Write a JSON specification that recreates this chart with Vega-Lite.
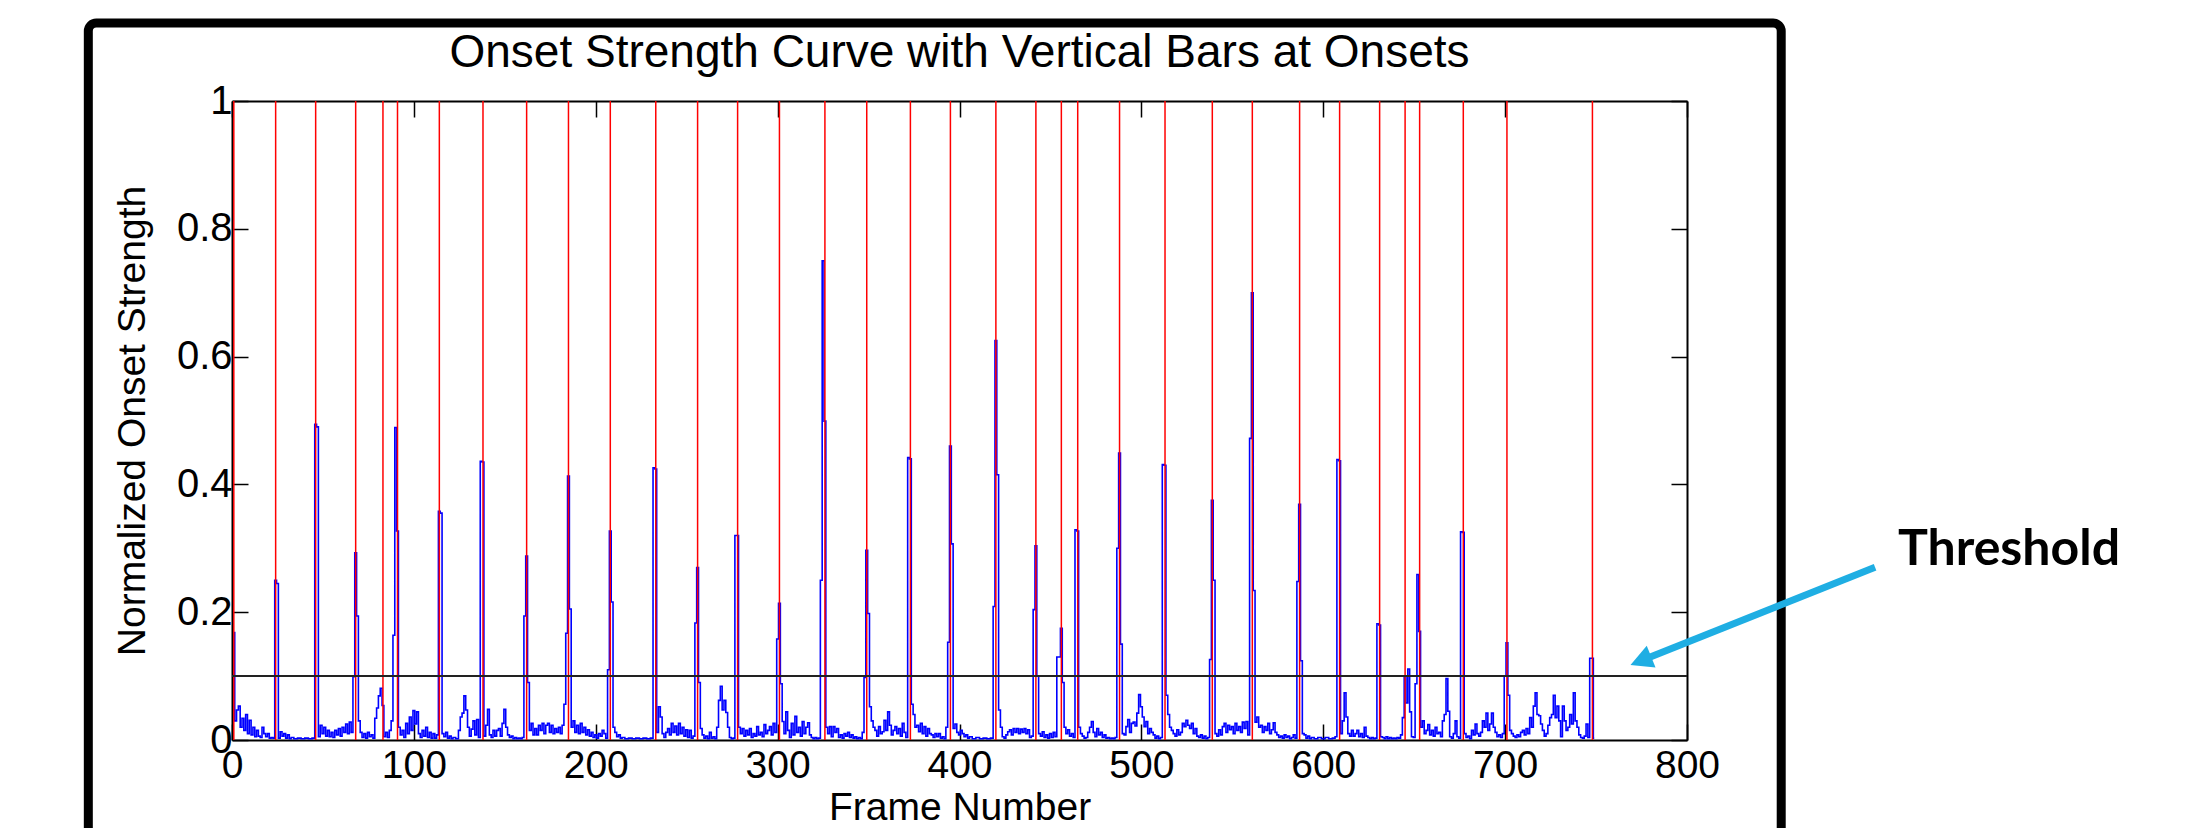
{
"$schema": "https://vega.github.io/schema/vega-lite/v6.json",
"width": 1455,
"height": 639,
"autosize": {"type": "none"},
"padding": {"left": 232, "top": 101, "right": 516, "bottom": 88},
"background": "white",
"config": {"view": {"stroke": null}, "font": "Liberation Sans", "axis": {"grid": false}},
"title": {"text": "Onset Strength Curve with Vertical Bars at Onsets", "font": "Liberation Sans", "fontSize": 46, "fontWeight": "normal", "color": "black", "anchor": "middle", "frame": "group", "offset": -58},
"datasets": {
"curve": [
{"frame":1,"value":0.168},{"frame":2,"value":0.03},{"frame":3,"value":0.047},{"frame":4,"value":0.053},{"frame":5,"value":0.02},{"frame":6,"value":0.034},{"frame":7,"value":0.015},{"frame":8,"value":0.04},{"frame":9,"value":0.01},{"frame":10,"value":0.031},{"frame":11,"value":0.008},{"frame":12,"value":0.02},{"frame":13,"value":0.005},{"frame":14,"value":0.015},{"frame":15,"value":0.006},{"frame":16,"value":0.004},{"frame":17,"value":0.02},{"frame":18,"value":0.01},{"frame":19,"value":0.005},{"frame":20,"value":0.01},{"frame":21,"value":0.003},{"frame":22,"value":0.004},{"frame":23,"value":0.003},
{"frame":24,"value":0.25},{"frame":25,"value":0.245},{"frame":26,"value":0.003},{"frame":27,"value":0.013},{"frame":28,"value":0.006},{"frame":29,"value":0.01},{"frame":30,"value":0.003},{"frame":31,"value":0.008},{"frame":32,"value":0.002},{"frame":33,"value":0.004},{"frame":35,"value":0.002},{"frame":37,"value":0.003},{"frame":39,"value":0.002},{"frame":41,"value":0.003},{"frame":43,"value":0.002},{"frame":45,"value":0.003},
{"frame":46,"value":0.494},{"frame":47,"value":0.49},{"frame":48,"value":0.005},{"frame":49,"value":0.023},{"frame":50,"value":0.01},{"frame":51,"value":0.02},{"frame":52,"value":0.006},{"frame":53,"value":0.015},{"frame":54,"value":0.005},{"frame":55,"value":0.012},{"frame":56,"value":0.004},{"frame":57,"value":0.015},{"frame":58,"value":0.008},{"frame":59,"value":0.018},{"frame":60,"value":0.006},{"frame":61,"value":0.02},{"frame":62,"value":0.012},{"frame":63,"value":0.025},{"frame":64,"value":0.01},{"frame":65,"value":0.028},{"frame":66,"value":0.012},
{"frame":67,"value":0.099},{"frame":68,"value":0.293},{"frame":69,"value":0.194},{"frame":70,"value":0.03},{"frame":71,"value":0.012},{"frame":72,"value":0.004},{"frame":73,"value":0.01},{"frame":74,"value":0.003},{"frame":75,"value":0.012},{"frame":76,"value":0.005},{"frame":77,"value":0.008},{"frame":78,"value":0.003},{"frame":79,"value":0.034},{"frame":80,"value":0.05},{"frame":81,"value":0.069},{"frame":82,"value":0.081},{"frame":83,"value":0.054},{"frame":84,"value":0.005},{"frame":85,"value":0.012},{"frame":86,"value":0.004},{"frame":87,"value":0.015},{"frame":88,"value":0.03},
{"frame":89,"value":0.164},{"frame":90,"value":0.489},{"frame":91,"value":0.327},{"frame":92,"value":0.02},{"frame":93,"value":0.008},{"frame":94,"value":0.015},{"frame":95,"value":0.004},{"frame":96,"value":0.026},{"frame":97,"value":0.01},{"frame":98,"value":0.036},{"frame":99,"value":0.015},{"frame":100,"value":0.046},{"frame":101,"value":0.025},{"frame":102,"value":0.044},{"frame":103,"value":0.01},{"frame":104,"value":0.004},{"frame":105,"value":0.015},{"frame":106,"value":0.006},{"frame":107,"value":0.02},{"frame":108,"value":0.004},{"frame":109,"value":0.012},{"frame":110,"value":0.003},{"frame":111,"value":0.01},{"frame":112,"value":0.003},{"frame":113,"value":0.008},
{"frame":114,"value":0.358},{"frame":115,"value":0.355},{"frame":116,"value":0.01},{"frame":117,"value":0.005},{"frame":118,"value":0.012},{"frame":119,"value":0.003},{"frame":120,"value":0.006},{"frame":121,"value":0.002},{"frame":122,"value":0.004},{"frame":124,"value":0.002},{"frame":125,"value":0.015},{"frame":126,"value":0.036},{"frame":127,"value":0.042},{"frame":128,"value":0.069},{"frame":129,"value":0.047},{"frame":130,"value":0.02},{"frame":131,"value":0.006},{"frame":132,"value":0.017},{"frame":133,"value":0.03},{"frame":134,"value":0.008},{"frame":135,"value":0.032},{"frame":136,"value":0.004},
{"frame":137,"value":0.436},{"frame":138,"value":0.435},{"frame":139,"value":0.006},{"frame":140,"value":0.023},{"frame":141,"value":0.048},{"frame":142,"value":0.008},{"frame":143,"value":0.004},{"frame":144,"value":0.015},{"frame":145,"value":0.006},{"frame":146,"value":0.015},{"frame":147,"value":0.018},{"frame":148,"value":0.006},{"frame":149,"value":0.026},{"frame":150,"value":0.048},{"frame":151,"value":0.02},{"frame":152,"value":0.008},{"frame":153,"value":0.004},{"frame":154,"value":0.006},{"frame":155,"value":0.002},{"frame":156,"value":0.004},{"frame":157,"value":0.002},{"frame":158,"value":0.003},{"frame":159,"value":0.002},{"frame":160,"value":0.004},
{"frame":161,"value":0.194},{"frame":162,"value":0.288},{"frame":163,"value":0.09},{"frame":164,"value":0.015},{"frame":165,"value":0.026},{"frame":166,"value":0.008},{"frame":167,"value":0.018},{"frame":168,"value":0.008},{"frame":169,"value":0.023},{"frame":170,"value":0.015},{"frame":171,"value":0.026},{"frame":172,"value":0.01},{"frame":173,"value":0.023},{"frame":174,"value":0.026},{"frame":175,"value":0.012},{"frame":176,"value":0.023},{"frame":177,"value":0.01},{"frame":178,"value":0.018},{"frame":179,"value":0.012},{"frame":180,"value":0.02},{"frame":181,"value":0.01},{"frame":182,"value":0.023},{"frame":183,"value":0.056},
{"frame":184,"value":0.167},{"frame":185,"value":0.413},{"frame":186,"value":0.205},{"frame":187,"value":0.02},{"frame":188,"value":0.03},{"frame":189,"value":0.012},{"frame":190,"value":0.023},{"frame":191,"value":0.01},{"frame":192,"value":0.026},{"frame":193,"value":0.012},{"frame":194,"value":0.02},{"frame":195,"value":0.008},{"frame":196,"value":0.016},{"frame":197,"value":0.006},{"frame":198,"value":0.012},{"frame":199,"value":0.004},{"frame":200,"value":0.008},{"frame":201,"value":0.003},{"frame":202,"value":0.01},{"frame":203,"value":0.006},{"frame":204,"value":0.015},{"frame":205,"value":0.01},{"frame":206,"value":0.003},
{"frame":207,"value":0.11},{"frame":208,"value":0.327},{"frame":209,"value":0.216},{"frame":210,"value":0.02},{"frame":211,"value":0.012},{"frame":212,"value":0.005},{"frame":213,"value":0.008},{"frame":214,"value":0.003},{"frame":215,"value":0.004},{"frame":217,"value":0.002},{"frame":219,"value":0.003},{"frame":221,"value":0.002},{"frame":223,"value":0.003},{"frame":225,"value":0.002},{"frame":227,"value":0.003},{"frame":229,"value":0.002},{"frame":231,"value":0.003},
{"frame":232,"value":0.426},{"frame":233,"value":0.424},{"frame":234,"value":0.012},{"frame":235,"value":0.052},{"frame":236,"value":0.036},{"frame":237,"value":0.01},{"frame":238,"value":0.004},{"frame":239,"value":0.012},{"frame":240,"value":0.018},{"frame":241,"value":0.008},{"frame":242,"value":0.026},{"frame":243,"value":0.012},{"frame":244,"value":0.022},{"frame":245,"value":0.008},{"frame":246,"value":0.026},{"frame":247,"value":0.01},{"frame":248,"value":0.02},{"frame":249,"value":0.006},{"frame":250,"value":0.016},{"frame":251,"value":0.004},{"frame":252,"value":0.015},{"frame":253,"value":0.003},{"frame":254,"value":0.006},
{"frame":255,"value":0.183},{"frame":256,"value":0.27},{"frame":257,"value":0.09},{"frame":258,"value":0.018},{"frame":259,"value":0.008},{"frame":260,"value":0.003},{"frame":261,"value":0.006},{"frame":262,"value":0.002},{"frame":263,"value":0.012},{"frame":264,"value":0.003},{"frame":265,"value":0.005},{"frame":266,"value":0.002},{"frame":267,"value":0.02},{"frame":268,"value":0.062},{"frame":269,"value":0.084},{"frame":270,"value":0.047},{"frame":271,"value":0.062},{"frame":272,"value":0.043},{"frame":273,"value":0.02},{"frame":274,"value":0.004},{"frame":275,"value":0.002},{"frame":276,"value":0.003},
{"frame":277,"value":0.32},{"frame":278,"value":0.32},{"frame":279,"value":0.02},{"frame":280,"value":0.01},{"frame":281,"value":0.018},{"frame":282,"value":0.006},{"frame":283,"value":0.015},{"frame":284,"value":0.008},{"frame":285,"value":0.018},{"frame":286,"value":0.004},{"frame":287,"value":0.01},{"frame":288,"value":0.006},{"frame":289,"value":0.021},{"frame":290,"value":0.008},{"frame":291,"value":0.012},{"frame":292,"value":0.005},{"frame":293,"value":0.024},{"frame":294,"value":0.01},{"frame":295,"value":0.015},{"frame":296,"value":0.021},{"frame":297,"value":0.008},{"frame":298,"value":0.026},{"frame":299,"value":0.012},
{"frame":300,"value":0.158},{"frame":301,"value":0.214},{"frame":302,"value":0.088},{"frame":303,"value":0.029},{"frame":304,"value":0.01},{"frame":305,"value":0.044},{"frame":306,"value":0.015},{"frame":307,"value":0.004},{"frame":308,"value":0.026},{"frame":309,"value":0.008},{"frame":310,"value":0.037},{"frame":311,"value":0.012},{"frame":312,"value":0.02},{"frame":313,"value":0.006},{"frame":314,"value":0.029},{"frame":315,"value":0.01},{"frame":316,"value":0.02},{"frame":317,"value":0.027},{"frame":318,"value":0.008},{"frame":319,"value":0.004},{"frame":320,"value":0.002},{"frame":321,"value":0.004},{"frame":322,"value":0.002},{"frame":323,"value":0.003},
{"frame":324,"value":0.25},{"frame":325,"value":0.75},{"frame":326,"value":0.499},{"frame":327,"value":0.02},{"frame":328,"value":0.01},{"frame":329,"value":0.021},{"frame":330,"value":0.005},{"frame":331,"value":0.021},{"frame":332,"value":0.012},{"frame":333,"value":0.018},{"frame":334,"value":0.004},{"frame":335,"value":0.008},{"frame":336,"value":0.003},{"frame":337,"value":0.01},{"frame":338,"value":0.006},{"frame":339,"value":0.012},{"frame":340,"value":0.004},{"frame":341,"value":0.008},{"frame":342,"value":0.003},{"frame":343,"value":0.005},{"frame":344,"value":0.002},{"frame":345,"value":0.004},{"frame":346,"value":0.002},{"frame":347,"value":0.012},
{"frame":348,"value":0.098},{"frame":349,"value":0.297},{"frame":350,"value":0.198},{"frame":351,"value":0.052},{"frame":352,"value":0.03},{"frame":353,"value":0.02},{"frame":354,"value":0.015},{"frame":355,"value":0.006},{"frame":356,"value":0.021},{"frame":357,"value":0.01},{"frame":358,"value":0.013},{"frame":359,"value":0.031},{"frame":360,"value":0.015},{"frame":361,"value":0.044},{"frame":362,"value":0.023},{"frame":363,"value":0.008},{"frame":364,"value":0.015},{"frame":365,"value":0.021},{"frame":366,"value":0.01},{"frame":367,"value":0.018},{"frame":368,"value":0.006},{"frame":369,"value":0.026},{"frame":370,"value":0.012},{"frame":371,"value":0.004},
{"frame":372,"value":0.442},{"frame":373,"value":0.44},{"frame":374,"value":0.056},{"frame":375,"value":0.04},{"frame":376,"value":0.02},{"frame":377,"value":0.023},{"frame":378,"value":0.013},{"frame":379,"value":0.026},{"frame":380,"value":0.01},{"frame":381,"value":0.021},{"frame":382,"value":0.006},{"frame":383,"value":0.018},{"frame":384,"value":0.01},{"frame":385,"value":0.008},{"frame":386,"value":0.004},{"frame":387,"value":0.01},{"frame":388,"value":0.005},{"frame":389,"value":0.01},{"frame":390,"value":0.003},{"frame":391,"value":0.005},{"frame":392,"value":0.002},{"frame":393,"value":0.02},
{"frame":394,"value":0.153},{"frame":395,"value":0.46},{"frame":396,"value":0.307},{"frame":397,"value":0.018},{"frame":398,"value":0.025},{"frame":399,"value":0.012},{"frame":400,"value":0.008},{"frame":401,"value":0.015},{"frame":402,"value":0.01},{"frame":403,"value":0.005},{"frame":404,"value":0.008},{"frame":405,"value":0.003},{"frame":406,"value":0.005},{"frame":408,"value":0.002},{"frame":410,"value":0.004},{"frame":412,"value":0.002},{"frame":414,"value":0.003},{"frame":416,"value":0.002},{"frame":418,"value":0.003},
{"frame":419,"value":0.209},{"frame":420,"value":0.625},{"frame":421,"value":0.415},{"frame":422,"value":0.047},{"frame":423,"value":0.02},{"frame":424,"value":0.005},{"frame":425,"value":0.003},{"frame":426,"value":0.008},{"frame":427,"value":0.013},{"frame":428,"value":0.016},{"frame":429,"value":0.008},{"frame":430,"value":0.018},{"frame":431,"value":0.012},{"frame":432,"value":0.018},{"frame":433,"value":0.01},{"frame":434,"value":0.017},{"frame":435,"value":0.012},{"frame":436,"value":0.018},{"frame":437,"value":0.01},{"frame":438,"value":0.016},{"frame":439,"value":0.004},{"frame":440,"value":0.006},
{"frame":441,"value":0.204},{"frame":442,"value":0.304},{"frame":443,"value":0.1},{"frame":444,"value":0.01},{"frame":445,"value":0.006},{"frame":446,"value":0.013},{"frame":447,"value":0.004},{"frame":448,"value":0.008},{"frame":449,"value":0.003},{"frame":450,"value":0.01},{"frame":451,"value":0.004},{"frame":452,"value":0.012},{"frame":453,"value":0.005},
{"frame":454,"value":0.13},{"frame":455,"value":0.13},{"frame":456,"value":0.175},{"frame":457,"value":0.09},{"frame":458,"value":0.02},{"frame":459,"value":0.01},{"frame":460,"value":0.016},{"frame":461,"value":0.006},{"frame":462,"value":0.01},{"frame":463,"value":0.004},
{"frame":464,"value":0.329},{"frame":465,"value":0.327},{"frame":466,"value":0.02},{"frame":467,"value":0.01},{"frame":468,"value":0.006},{"frame":469,"value":0.003},{"frame":470,"value":0.004},{"frame":471,"value":0.012},{"frame":472,"value":0.02},{"frame":473,"value":0.029},{"frame":474,"value":0.012},{"frame":475,"value":0.005},{"frame":476,"value":0.018},{"frame":477,"value":0.008},{"frame":478,"value":0.012},{"frame":479,"value":0.004},{"frame":480,"value":0.008},{"frame":481,"value":0.003},{"frame":482,"value":0.004},{"frame":483,"value":0.002},{"frame":484,"value":0.003},{"frame":485,"value":0.002},{"frame":486,"value":0.004},
{"frame":487,"value":0.3},{"frame":488,"value":0.449},{"frame":489,"value":0.15},{"frame":490,"value":0.01},{"frame":491,"value":0.008},{"frame":492,"value":0.021},{"frame":493,"value":0.032},{"frame":494,"value":0.012},{"frame":495,"value":0.026},{"frame":496,"value":0.028},{"frame":497,"value":0.022},{"frame":498,"value":0.042},{"frame":499,"value":0.071},{"frame":500,"value":0.052},{"frame":501,"value":0.036},{"frame":502,"value":0.021},{"frame":503,"value":0.029},{"frame":504,"value":0.01},{"frame":505,"value":0.018},{"frame":506,"value":0.012},{"frame":507,"value":0.008},{"frame":508,"value":0.003},{"frame":509,"value":0.006},{"frame":510,"value":0.002},{"frame":511,"value":0.004},
{"frame":512,"value":0.431},{"frame":513,"value":0.43},{"frame":514,"value":0.07},{"frame":515,"value":0.04},{"frame":516,"value":0.02},{"frame":517,"value":0.015},{"frame":518,"value":0.01},{"frame":519,"value":0.006},{"frame":520,"value":0.016},{"frame":521,"value":0.008},{"frame":522,"value":0.012},{"frame":523,"value":0.026},{"frame":524,"value":0.021},{"frame":525,"value":0.031},{"frame":526,"value":0.023},{"frame":527,"value":0.018},{"frame":528,"value":0.026},{"frame":529,"value":0.01},{"frame":530,"value":0.018},{"frame":531,"value":0.006},{"frame":532,"value":0.004},{"frame":533,"value":0.008},{"frame":534,"value":0.003},{"frame":535,"value":0.006},{"frame":536,"value":0.002},{"frame":537,"value":0.004},
{"frame":538,"value":0.126},{"frame":539,"value":0.375},{"frame":540,"value":0.25},{"frame":541,"value":0.01},{"frame":542,"value":0.006},{"frame":543,"value":0.016},{"frame":544,"value":0.008},{"frame":545,"value":0.021},{"frame":546,"value":0.026},{"frame":547,"value":0.012},{"frame":548,"value":0.023},{"frame":549,"value":0.016},{"frame":550,"value":0.021},{"frame":551,"value":0.01},{"frame":552,"value":0.026},{"frame":553,"value":0.015},{"frame":554,"value":0.021},{"frame":555,"value":0.012},{"frame":556,"value":0.028},{"frame":557,"value":0.018},{"frame":558,"value":0.029},{"frame":559,"value":0.008},
{"frame":560,"value":0.472},{"frame":561,"value":0.7},{"frame":562,"value":0.234},{"frame":563,"value":0.028},{"frame":564,"value":0.036},{"frame":565,"value":0.02},{"frame":566,"value":0.023},{"frame":567,"value":0.012},{"frame":568,"value":0.021},{"frame":569,"value":0.015},{"frame":570,"value":0.026},{"frame":571,"value":0.01},{"frame":572,"value":0.016},{"frame":573,"value":0.027},{"frame":574,"value":0.012},{"frame":575,"value":0.008},{"frame":576,"value":0.004},{"frame":577,"value":0.006},{"frame":578,"value":0.003},{"frame":579,"value":0.008},{"frame":580,"value":0.004},{"frame":581,"value":0.006},{"frame":582,"value":0.002},{"frame":583,"value":0.004},{"frame":584,"value":0.008},{"frame":585,"value":0.003},
{"frame":586,"value":0.248},{"frame":587,"value":0.369},{"frame":588,"value":0.124},{"frame":589,"value":0.01},{"frame":590,"value":0.008},{"frame":591,"value":0.003},{"frame":592,"value":0.006},{"frame":593,"value":0.002},{"frame":594,"value":0.004},{"frame":596,"value":0.002},{"frame":598,"value":0.004},{"frame":600,"value":0.002},{"frame":602,"value":0.004},{"frame":604,"value":0.002},{"frame":606,"value":0.003},{"frame":607,"value":0.005},
{"frame":608,"value":0.439},{"frame":609,"value":0.437},{"frame":610,"value":0.01},{"frame":611,"value":0.03},{"frame":612,"value":0.074},{"frame":613,"value":0.036},{"frame":614,"value":0.01},{"frame":615,"value":0.006},{"frame":616,"value":0.015},{"frame":617,"value":0.006},{"frame":618,"value":0.01},{"frame":619,"value":0.015},{"frame":620,"value":0.005},{"frame":621,"value":0.01},{"frame":622,"value":0.004},{"frame":623,"value":0.02},{"frame":624,"value":0.006},{"frame":625,"value":0.004},{"frame":626,"value":0.002},{"frame":627,"value":0.004},{"frame":628,"value":0.002},{"frame":629,"value":0.003},
{"frame":630,"value":0.182},{"frame":631,"value":0.18},{"frame":632,"value":0.005},{"frame":633,"value":0.004},{"frame":634,"value":0.002},{"frame":635,"value":0.005},{"frame":636,"value":0.002},{"frame":637,"value":0.004},{"frame":638,"value":0.002},{"frame":639,"value":0.003},{"frame":640,"value":0.002},{"frame":641,"value":0.004},{"frame":642,"value":0.003},{"frame":643,"value":0.008},
{"frame":644,"value":0.035},{"frame":645,"value":0.1},{"frame":646,"value":0.058},{"frame":647,"value":0.111},{"frame":648,"value":0.044},{"frame":649,"value":0.005},{"frame":650,"value":0.004},{"frame":651,"value":0.088},{"frame":652,"value":0.259},{"frame":653,"value":0.17},{"frame":654,"value":0.02},{"frame":655,"value":0.03},{"frame":656,"value":0.01},{"frame":657,"value":0.015},{"frame":658,"value":0.024},{"frame":659,"value":0.008},{"frame":660,"value":0.015},{"frame":661,"value":0.006},{"frame":662,"value":0.02},{"frame":663,"value":0.01},{"frame":664,"value":0.012},{"frame":665,"value":0.005},{"frame":666,"value":0.03},{"frame":667,"value":0.04},{"frame":668,"value":0.096},{"frame":669,"value":0.045},{"frame":670,"value":0.005},{"frame":671,"value":0.003},{"frame":672,"value":0.01},{"frame":673,"value":0.03},{"frame":674,"value":0.005},{"frame":675,"value":0.003},
{"frame":676,"value":0.326},{"frame":677,"value":0.325},{"frame":678,"value":0.01},{"frame":679,"value":0.004},{"frame":680,"value":0.006},{"frame":681,"value":0.002},{"frame":682,"value":0.015},{"frame":683,"value":0.008},{"frame":684,"value":0.025},{"frame":685,"value":0.01},{"frame":686,"value":0.006},{"frame":687,"value":0.012},{"frame":688,"value":0.03},{"frame":689,"value":0.02},{"frame":690,"value":0.042},{"frame":691,"value":0.015},{"frame":692,"value":0.025},{"frame":693,"value":0.042},{"frame":694,"value":0.02},{"frame":695,"value":0.012},{"frame":696,"value":0.005},{"frame":697,"value":0.008},{"frame":698,"value":0.004},{"frame":699,"value":0.01},
{"frame":700,"value":0.1},{"frame":701,"value":0.152},{"frame":702,"value":0.07},{"frame":703,"value":0.015},{"frame":704,"value":0.01},{"frame":705,"value":0.006},{"frame":706,"value":0.004},{"frame":707,"value":0.008},{"frame":708,"value":0.005},{"frame":709,"value":0.012},{"frame":710,"value":0.015},{"frame":711,"value":0.008},{"frame":712,"value":0.018},{"frame":713,"value":0.01},{"frame":714,"value":0.035},{"frame":715,"value":0.02},{"frame":716,"value":0.053},{"frame":717,"value":0.074},{"frame":718,"value":0.04},{"frame":719,"value":0.038},{"frame":720,"value":0.025},{"frame":721,"value":0.015},{"frame":722,"value":0.006},{"frame":723,"value":0.01},{"frame":724,"value":0.023},{"frame":725,"value":0.035},{"frame":726,"value":0.04},{"frame":727,"value":0.07},{"frame":728,"value":0.035},{"frame":729,"value":0.053},{"frame":730,"value":0.03},{"frame":731,"value":0.005},{"frame":732,"value":0.053},{"frame":733,"value":0.03},{"frame":734,"value":0.015},{"frame":735,"value":0.02},{"frame":736,"value":0.04},{"frame":737,"value":0.025},{"frame":738,"value":0.074},{"frame":739,"value":0.03},{"frame":740,"value":0.02},{"frame":741,"value":0.008},{"frame":742,"value":0.004},{"frame":743,"value":0.003},{"frame":744,"value":0.006},{"frame":745,"value":0.025},{"frame":746,"value":0.004},
{"frame":747,"value":0.128},{"frame":748,"value":0.128},{"frame":749,"value":0.003}
],
"onsets": [
{"frame":1},{"frame":24},{"frame":46},{"frame":68},{"frame":83},{"frame":91},{"frame":114},{"frame":138},{"frame":162},{"frame":185},{"frame":208},{"frame":233},{"frame":256},{"frame":278},{"frame":301},{"frame":326},{"frame":349},{"frame":373},{"frame":395},{"frame":420},{"frame":442},{"frame":456},{"frame":465},{"frame":488},{"frame":513},{"frame":539},{"frame":561},{"frame":587},{"frame":609},{"frame":631},{"frame":645},{"frame":653},{"frame":677},{"frame":701},{"frame":748}
],
"single": [{}]
},
"layer": [
{
"data": {"name": "curve"},
"mark": {"type": "line", "color": "#0000FF", "strokeWidth": 1.6, "interpolate": "step"},
"encoding": {
"x": {"field": "frame", "type": "quantitative", "scale": {"domain": [0, 800], "nice": false, "zero": false},
"axis": {"orient": "bottom", "title": "Frame Number", "values": [0,100,200,300,400,500,600,700,800], "tickSize": -16, "tickColor": "black", "tickWidth": 1.5, "domainColor": "black", "domainWidth": 2, "labelFont": "Liberation Sans", "labelFontSize": 39, "labelColor": "black", "labelPadding": 22, "labelFlush": false, "labelOverlap": false, "titleFont": "Liberation Sans", "titleFontSize": 39, "titleFontWeight": "normal", "titleColor": "black", "titlePadding": 3}},
"y": {"field": "value", "type": "quantitative", "scale": {"domain": [0, 1], "nice": false, "zero": false},
"axis": {"orient": "left", "title": "Normalized Onset Strength", "values": [0,0.2,0.4,0.6,0.8,1], "format": ".1~f", "tickSize": -16, "tickColor": "black", "tickWidth": 1.5, "domainColor": "black", "domainWidth": 2, "labelFont": "Liberation Sans", "labelFontSize": 40, "labelColor": "black", "labelPadding": 16, "labelFlush": false, "labelOverlap": false, "titleFont": "Liberation Sans", "titleFontSize": 39, "titleFontWeight": "normal", "titleColor": "black", "titlePadding": 24}}
}
},
{
"data": {"name": "onsets"},
"mark": {"type": "rule", "color": "#FF0000", "strokeWidth": 1.5},
"encoding": {
"x": {"field": "frame", "type": "quantitative", "scale": {"domain": [0, 800], "nice": false, "zero": false},
"axis": {"orient": "top", "title": null, "labels": false, "values": [0,100,200,300,400,500,600,700,800], "tickSize": -16, "tickColor": "black", "tickWidth": 1.5, "domainColor": "black", "domainWidth": 2}}
}
},
{
"data": {"name": "single"},
"mark": {"type": "rule", "color": "#222222", "strokeWidth": 2},
"encoding": {
"y": {"datum": 0.1, "type": "quantitative", "scale": {"domain": [0, 1], "nice": false, "zero": false},
"axis": {"orient": "right", "title": null, "labels": false, "values": [0,0.2,0.4,0.6,0.8,1], "tickSize": -16, "tickColor": "black", "tickWidth": 1.5, "domainColor": "black", "domainWidth": 2}}
}
},
{
"data": {"name": "single"},
"mark": {"type": "rect", "filled": false, "color": "black", "strokeWidth": 9, "cornerRadius": 8},
"encoding": {
"x": {"datum": -79, "type": "quantitative", "scale": {"domain": [0, 800], "nice": false, "zero": false}, "axis": null},
"x2": {"datum": 851.8},
"y": {"datum": 1.122, "type": "quantitative", "scale": {"domain": [0, 1], "nice": false, "zero": false}, "axis": null},
"y2": {"datum": -0.3}
}
},
{
"data": {"name": "single"},
"mark": {"type": "rule", "color": "#1FAEE3", "strokeWidth": 7},
"encoding": {
"x": {"datum": 903.4, "type": "quantitative", "scale": {"domain": [0, 800], "nice": false, "zero": false}, "axis": null},
"x2": {"datum": 776},
"y": {"datum": 0.2703, "type": "quantitative", "scale": {"domain": [0, 1], "nice": false, "zero": false}, "axis": null},
"y2": {"datum": 0.1255}
}
},
{
"data": {"name": "single"},
"mark": {"type": "point", "shape": "M0,-1L1,0.9L-1,0.9Z", "filled": true, "color": "#1FAEE3", "opacity": 1, "size": 550, "angle": 248},
"encoding": {
"x": {"datum": 774.9, "type": "quantitative", "scale": {"domain": [0, 800], "nice": false, "zero": false}, "axis": null},
"y": {"datum": 0.1241, "type": "quantitative", "scale": {"domain": [0, 1], "nice": false, "zero": false}, "axis": null}
}
},
{
"data": {"name": "single"},
"mark": {"type": "text", "text": "Threshold", "font": "Lato", "fontWeight": "bold", "fontSize": 50, "align": "left", "baseline": "alphabetic", "color": "black"},
"encoding": {
"x": {"datum": 916, "type": "quantitative", "scale": {"domain": [0, 800], "nice": false, "zero": false}, "axis": null},
"y": {"datum": 0.2739, "type": "quantitative", "scale": {"domain": [0, 1], "nice": false, "zero": false}, "axis": null}
}
}
],
"resolve": {"axis": {"x": "independent", "y": "independent"}}
}
